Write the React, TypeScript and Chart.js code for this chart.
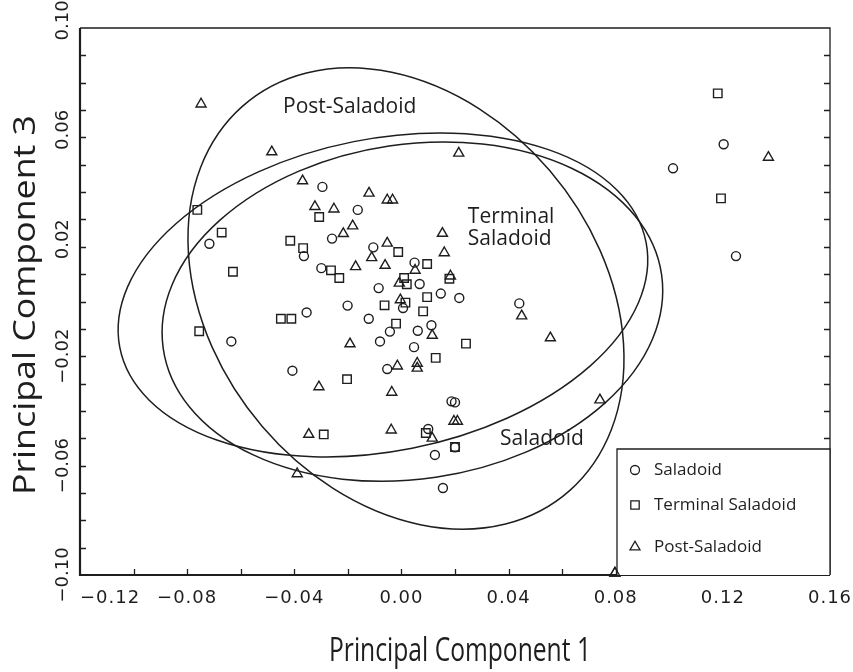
import React, { useEffect, useRef } from 'react';
import { Chart, registerables } from 'chart.js';

Chart.register(...registerables);

// ---- data ----
const seriesNames = ['Saladoid', 'Terminal Saladoid', 'Post-Saladoid'];

const saladoidX = [-0.0295, -0.0717, -0.0259, -0.0364, -0.0299, -0.0163, -0.0105, 0.0049, 0.0068, -0.0085, 0.0147, 0.0216, 0.0006, -0.0201, -0.0354, -0.0122, -0.0043, 0.0061, 0.0112, -0.0080, 0.0047, 0.0440, -0.0407, -0.0053, 0.0187, 0.0200, 0.0100, 0.0200, 0.0125, -0.0635, 0.1203, 0.1014, 0.1249, 0.0155];
const saladoidY = [0.0419, 0.0211, 0.0230, 0.0166, 0.0122, 0.0335, 0.0198, 0.0142, 0.0064, 0.0049, 0.0029, 0.0013, -0.0024, -0.0015, -0.0040, -0.0063, -0.0110, -0.0107, -0.0087, -0.0146, -0.0167, -0.0007, -0.0253, -0.0247, -0.0365, -0.0369, -0.0466, -0.0533, -0.0561, -0.0146, 0.0575, 0.0487, 0.0166, -0.0682];

const terminalX = [-0.0762, -0.0307, -0.0671, -0.0415, -0.0367, -0.0263, -0.0232, -0.0629, -0.0012, 0.0096, 0.0010, 0.0020, 0.0179, 0.0096, 0.0015, -0.0063, 0.0081, -0.0450, -0.0411, -0.0020, 0.0241, 0.0128, -0.0203, -0.0290, 0.0091, 0.0200, -0.0755, 0.1181, 0.1193];
const terminalY = [0.0335, 0.0309, 0.0252, 0.0222, 0.0195, 0.0114, 0.0086, 0.0109, 0.0181, 0.0137, 0.0086, 0.0063, 0.0083, 0.0016, -0.0004, -0.0014, -0.0036, -0.0063, -0.0063, -0.0081, -0.0154, -0.0206, -0.0284, -0.0486, -0.0481, -0.0532, -0.0109, 0.0761, 0.0377];

const postX = [-0.0748, -0.0484, -0.0369, -0.0323, -0.0252, -0.0217, -0.0121, -0.0053, -0.0033, -0.0182, 0.0214, 0.0153, -0.0053, 0.0160, -0.0111, -0.0061, -0.0171, 0.0051, -0.0008, 0.0183, -0.0004, 0.0115, -0.0192, 0.0449, 0.0556, -0.0015, 0.0059, 0.0059, -0.0308, -0.0036, 0.0196, 0.0209, -0.0346, -0.0038, 0.0115, -0.0389, 0.0741, 0.1370, 0.0797];
const postY = [0.0722, 0.0547, 0.0441, 0.0347, 0.0338, 0.0248, 0.0396, 0.0371, 0.0371, 0.0276, 0.0542, 0.0249, 0.0213, 0.0178, 0.0160, 0.0132, 0.0127, 0.0114, 0.0067, 0.0093, 0.0006, -0.0124, -0.0155, -0.0053, -0.0133, -0.0236, -0.0226, -0.0244, -0.0312, -0.0332, -0.0438, -0.0438, -0.0486, -0.0470, -0.0500, -0.0630, -0.0360, 0.0527, -0.0993];

// confidence ellipses (data units): Post-Saladoid, Terminal Saladoid, Saladoid
const ellipseCenterX = [0.0017, -0.0069, 0.0041];
const ellipseCenterY = [0.0011, 0.0024, -0.0037];
const ellipseSemiMajor = [0.0931, 0.1001, 0.0940];
const ellipseSemiMinor = [0.0712, 0.0571, 0.0612];
const ellipseAngleDeg = [-48.9, 11.0, 8.2];

// group labels written on the plot
const groupLabelLines = [['Post-Saladoid'], ['Terminal', 'Saladoid'], ['Saladoid']];
const groupLabelX = [-0.0442, 0.0248, 0.0368];
const groupLabelY = [0.0711, 0.0309, -0.0503];

const xMin = -0.12, xMax = 0.16, yMin = -0.10, yMax = 0.10;
const xTickValues = [-0.12, -0.08, -0.04, 0.0, 0.04, 0.08, 0.12, 0.16];
const xTickLabels = ['\u22120.12', '\u22120.08', '\u22120.04', '0.00', '0.04', '0.08', '0.12', '0.16'];
const yTickValues = [-0.10, -0.06, -0.02, 0.02, 0.06, 0.10];
const yTickLabels = ['\u22120.10', '\u22120.06', '\u22120.02', '0.02', '0.06', '0.10'];
const xMinorStep = 0.02;
const yMinorStep = 0.01;

const xTitle = 'Principal Component 1';
const yTitle = 'Principal Component 3';

const INK = '#1e1e1e';
const TICK_FONT = '18px "DejaVu Sans"';
const X_TITLE_FONT = '33px "Open Sans"';
const Y_TITLE_FONT = '31px "Open Sans"';
const LABEL_FONT = '21px "Open Sans"';
const LEGEND_FONT = '17px "Open Sans"';

function toPoints(xs: number[], ys: number[]) {
  return xs.map((x, i) => ({ x, y: ys[i] }));
}

function drawMarker(ctx: CanvasRenderingContext2D, style: string, x: number, y: number) {
  ctx.beginPath();
  if (style === 'circle') {
    ctx.arc(x, y, 4.5, 0, Math.PI * 2);
  } else if (style === 'rect') {
    ctx.rect(x - 4.2, y - 4.2, 8.4, 8.4);
  } else {
    const r = 5.8;
    ctx.moveTo(x, y - r);
    ctx.lineTo(x + r * Math.sin((2 * Math.PI) / 3), y - r * Math.cos((2 * Math.PI) / 3));
    ctx.lineTo(x + r * Math.sin((4 * Math.PI) / 3), y - r * Math.cos((4 * Math.PI) / 3));
    ctx.closePath();
  }
  ctx.stroke();
}

const markerStyles = ['circle', 'rect', 'triangle'];

const decorPlugin = {
  id: 'decor',
  beforeDatasetsDraw(chart: any) {
    const { ctx, scales } = chart;
    const xs = scales.x, ys = scales.y;
    const x0 = xs.getPixelForValue(0), y0 = ys.getPixelForValue(0);
    const sx = xs.getPixelForValue(1) - x0;
    const sy = ys.getPixelForValue(1) - y0;
    ctx.save();
    ctx.strokeStyle = INK;
    ctx.lineWidth = 1.5;
    for (let i = 0; i < ellipseCenterX.length; i++) {
      ctx.save();
      ctx.translate(x0, y0);
      ctx.scale(sx, sy);
      ctx.beginPath();
      ctx.ellipse(ellipseCenterX[i], ellipseCenterY[i], ellipseSemiMajor[i], ellipseSemiMinor[i], (ellipseAngleDeg[i] * Math.PI) / 180, 0, Math.PI * 2);
      ctx.restore();
      ctx.stroke();
    }
    // group labels
    ctx.fillStyle = INK;
    ctx.font = LABEL_FONT;
    ctx.textAlign = 'left';
    ctx.textBaseline = 'middle';
    for (let i = 0; i < groupLabelLines.length; i++) {
      const px = xs.getPixelForValue(groupLabelX[i]);
      const py = ys.getPixelForValue(groupLabelY[i]);
      groupLabelLines[i].forEach((line, j) => ctx.fillText(line, px, py + j * 22));
    }
    ctx.restore();
  },
  afterDraw(chart: any) {
    const { ctx, chartArea, scales } = chart;
    const xs = scales.x, ys = scales.y;
    const { left, right, top, bottom } = chartArea;
    ctx.save();
    ctx.strokeStyle = INK;
    ctx.fillStyle = INK;
    // frame
    ctx.lineWidth = 1.3;
    ctx.beginPath();
    ctx.moveTo(left, top);
    ctx.lineTo(right, top);
    ctx.lineTo(right, bottom);
    ctx.stroke();
    ctx.lineWidth = 2.2;
    ctx.beginPath();
    ctx.moveTo(left, top);
    ctx.lineTo(left, bottom);
    ctx.lineTo(right, bottom);
    ctx.stroke();
    // inward tick marks
    ctx.lineWidth = 1.3;
    ctx.beginPath();
    const nX = Math.round((xMax - xMin) / xMinorStep);
    for (let k = 1; k < nX; k++) {
      const px = Math.round(xs.getPixelForValue(xMin + k * xMinorStep)) + 0.5;
      ctx.moveTo(px, bottom);
      ctx.lineTo(px, bottom - 6);
    }
    const nY = Math.round((yMax - yMin) / yMinorStep);
    for (let k = 1; k < nY; k++) {
      const py = Math.round(ys.getPixelForValue(yMin + k * yMinorStep)) + 0.5;
      ctx.moveTo(left, py);
      ctx.lineTo(left + 6, py);
      ctx.moveTo(right, py);
      ctx.lineTo(right - 6, py);
    }
    ctx.stroke();
    // x tick labels
    ctx.font = TICK_FONT;
    (ctx as any).letterSpacing = '1px';
    ctx.textBaseline = 'middle';
    xTickValues.forEach((v, i) => {
      const px = xs.getPixelForValue(v);
      if (i === 0) {
        ctx.textAlign = 'left';
        ctx.fillText(xTickLabels[i], left, bottom + 23);
      } else {
        ctx.textAlign = 'center';
        ctx.fillText(xTickLabels[i], px, bottom + 23);
      }
    });
    (ctx as any).letterSpacing = '0px';
    // y tick labels (rotated); unsigned labels keep room for a sign
    const signW = ctx.measureText('\u2212').width;
    yTickValues.forEach((v, i) => {
      const py = ys.getPixelForValue(v);
      const lbl = yTickLabels[i];
      const shift = lbl.startsWith('\u2212') ? 0 : signW / 2;
      ctx.save();
      ctx.translate(left - 17, py);
      ctx.rotate(-Math.PI / 2);
      ctx.textAlign = 'center';
      ctx.textBaseline = 'middle';
      ctx.fillText(lbl, shift, 0);
      ctx.restore();
    });
    // axis titles
    ctx.textAlign = 'center';
    ctx.textBaseline = 'alphabetic';
    ctx.font = X_TITLE_FONT;
    const xw = ctx.measureText(xTitle).width;
    ctx.save();
    ctx.translate(460, 661);
    ctx.scale(262 / xw, 1);
    ctx.fillText(xTitle, 0, 0);
    ctx.restore();
    ctx.font = Y_TITLE_FONT;
    const yw = ctx.measureText(yTitle).width;
    ctx.save();
    ctx.translate(35, 305);
    ctx.rotate(-Math.PI / 2);
    ctx.scale(380 / yw, 1);
    ctx.fillText(yTitle, 0, 0);
    ctx.restore();
    // legend box
    const bx = right - 213, by = bottom - 126;
    ctx.fillStyle = '#ffffff';
    ctx.fillRect(bx, by, right - bx, bottom - by);
    ctx.strokeStyle = INK;
    ctx.lineWidth = 1.3;
    ctx.beginPath();
    ctx.moveTo(bx, bottom);
    ctx.lineTo(bx, by);
    ctx.lineTo(right, by);
    ctx.lineTo(right, bottom);
    ctx.stroke();
    const rowY = [by + 21, by + 56, by + 98];
    ctx.fillStyle = INK;
    ctx.font = LEGEND_FONT;
    ctx.textAlign = 'left';
    ctx.textBaseline = 'middle';
    seriesNames.forEach((name, i) => {
      ctx.lineWidth = 1.3;
      drawMarker(ctx, markerStyles[i], bx + 18, rowY[i]);
      ctx.fillText(name, bx + 37, rowY[i]);
    });
    // marker sitting on the legend corner
    const lastI = postX.length - 1;
    drawMarker(ctx, 'triangle', xs.getPixelForValue(postX[lastI]), ys.getPixelForValue(postY[lastI]));
    ctx.restore();
  },
};

export default function App() {
  const canvasRef = useRef<HTMLCanvasElement | null>(null);

  useEffect(() => {
    if (!canvasRef.current) return;
    const common = {
      backgroundColor: 'rgba(0,0,0,0)',
      borderColor: INK,
      borderWidth: 1.4,
      showLine: false,
      clip: false as any,
    };
    const chart = new Chart(canvasRef.current, {
      type: 'scatter',
      data: {
        datasets: [
          { ...common, label: seriesNames[0], data: toPoints(saladoidX, saladoidY), pointStyle: 'circle', pointRadius: 4.5 },
          { ...common, label: seriesNames[1], data: toPoints(terminalX, terminalY), pointStyle: 'rect', pointRadius: 6 },
          { ...common, label: seriesNames[2], data: toPoints(postX, postY), pointStyle: 'triangle', pointRadius: 5.8 },
        ],
      },
      options: {
        animation: false,
        responsive: false,
        devicePixelRatio: 1,
        layout: { padding: { left: 80, right: 23, top: 28, bottom: 97 } },
        plugins: { legend: { display: false }, tooltip: { enabled: false } },
        scales: {
          x: { type: 'linear', min: xMin, max: xMax, display: false },
          y: { type: 'linear', min: yMin, max: yMax, display: false },
        },
        elements: { point: { hoverRadius: 4.5 } },
      },
      plugins: [decorPlugin],
    });
    return () => chart.destroy();
  }, []);

  return (
    <div style={{ position: 'fixed', left: 0, top: 0, width: 853, height: 672, background: '#fff' }}>
      <canvas ref={canvasRef} width={853} height={672} style={{ display: 'block' }} />
    </div>
  );
}
